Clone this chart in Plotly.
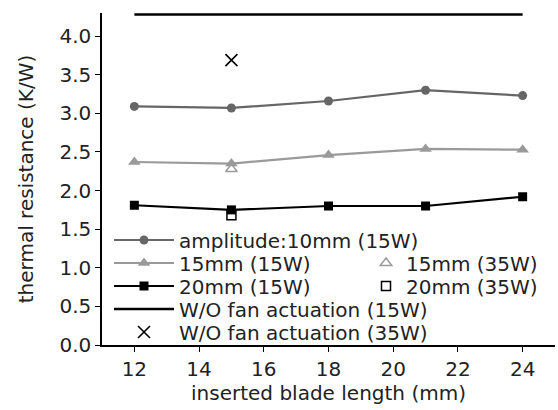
import plotly.graph_objects as go

blade_length = [12, 15, 18, 21, 24]
amp10_15w = [3.09, 3.07, 3.16, 3.30, 3.23]
amp15_15w = [2.37, 2.35, 2.46, 2.54, 2.53]
amp20_15w = [1.81, 1.75, 1.80, 1.80, 1.92]
no_fan_15w = [4.28, 4.28, 4.28, 4.28, 4.28]
x35 = [15]
amp15_35w = [2.28]
amp20_35w = [1.68]
no_fan_35w = [3.69]

FONT = "DejaVu Sans"
FSIZE = 20
TXT = "#222222"

# plot area geometry (px) used to place legends
L, R, T, B, W, H = 102, 3, 13, 65, 558, 410
PW, PH = W - L - R, H - T - B


def px2paper(px, py):
    return (px - L) / PW, (H - B - py) / PH


fig = go.Figure()
fig.add_trace(go.Scatter(x=blade_length, y=amp10_15w, mode="lines+markers",
                         name="amplitude:10mm (15W)", legend="legend",
                         line=dict(color="#666666", width=2.2),
                         marker=dict(symbol="circle", size=9, color="#666666")))
fig.add_trace(go.Scatter(x=blade_length, y=amp15_15w, mode="lines+markers",
                         name="15mm (15W)", legend="legend2",
                         line=dict(color="#9a9a9a", width=2.2),
                         marker=dict(symbol="triangle-up", size=11, color="#9a9a9a")))
fig.add_trace(go.Scatter(x=blade_length, y=amp20_15w, mode="lines+markers",
                         name="20mm (15W)", legend="legend3",
                         line=dict(color="#000000", width=2.2),
                         marker=dict(symbol="square", size=9, color="#000000")))
fig.add_trace(go.Scatter(x=blade_length, y=no_fan_15w, mode="lines",
                         name="W/O fan actuation (15W)", legend="legend4",
                         line=dict(color="#000000", width=2.5)))
fig.add_trace(go.Scatter(x=x35, y=no_fan_35w, mode="markers",
                         name="W/O fan actuation (35W)", legend="legend5",
                         marker=dict(symbol="x-thin-open", size=12, color="#000000",
                                     line=dict(width=1.6, color="#000000"))))
fig.add_trace(go.Scatter(x=x35, y=amp15_35w, mode="markers",
                         name="15mm (35W)", legend="legend6",
                         marker=dict(symbol="triangle-up-open", size=10, color="#9a9a9a",
                                     line=dict(width=1.5, color="#9a9a9a"))))
fig.add_trace(go.Scatter(x=x35, y=amp20_35w, mode="markers",
                         name="20mm (35W)", legend="legend7",
                         marker=dict(symbol="square-open", size=9, color="#000000",
                                     line=dict(width=1.5, color="#000000"))))

font = dict(family=FONT, size=FSIZE, color=TXT)
axis_common = dict(showline=True, linecolor="#000000", linewidth=1.5,
                   ticks="outside", ticklen=5, tickwidth=1.2, tickcolor="#000000",
                   showgrid=False, zeroline=False,
                   tickfont=font, title_font=font)

legends = {}
left_rows = [240, 263, 286, 309, 332]
for i, py in enumerate(left_rows):
    xp, yp = px2paper(109, py)
    key = "legend" if i == 0 else f"legend{i + 1}"
    legends[key] = dict(x=xp, y=yp, xanchor="left", yanchor="middle",
                        bgcolor="rgba(0,0,0,0)", borderwidth=0, itemwidth=60, font=font)
for j, py in enumerate([263, 286]):
    xp, yp = px2paper(366, py)
    legends[f"legend{6 + j}"] = dict(x=xp, y=yp, xanchor="left", yanchor="middle",
                                     bgcolor="rgba(0,0,0,0)", borderwidth=0,
                                     itemwidth=30, font=font)

fig.update_layout(
    width=W, height=H,
    margin=dict(l=L, r=R, t=T, b=B),
    paper_bgcolor="white", plot_bgcolor="white",
    font=font, showlegend=True,
    xaxis=dict(range=[11, 25], tickvals=[12, 14, 16, 18, 20, 22, 24],
               title=dict(text="inserted blade length (mm)", standoff=6), **axis_common),
    yaxis=dict(range=[0, 4.3], tickvals=[0, 0.5, 1, 1.5, 2, 2.5, 3, 3.5, 4],
               tickformat=".1f",
               title=dict(text="thermal resistance (K/W)", standoff=20), **axis_common),
    **legends,
)

fig.write_html("out.html")
